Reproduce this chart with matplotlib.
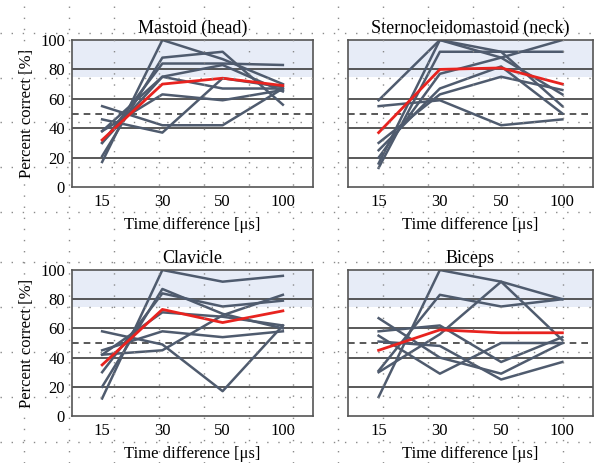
import numpy as np
import matplotlib
matplotlib.use("Agg")
from matplotlib import pyplot as plt
from matplotlib.lines import Line2D

plt.rcParams["font.family"] = ["Liberation Serif", "DejaVu Serif"]

time_labels = ["15", "30", "50", "100"]

mastoid = [
    [17, 100, 87, 70],
    [21, 88, 92, 56],
    [30, 84, 84, 83],
    [38, 75, 83, 65],
    [30, 75, 67, 67],
    [38, 63, 59, 66],
    [55, 42, 42, 67],
    [46, 37, 74, 68],
]
mastoid_mean = [32, 70, 74, 69]

neck = [
    [59, 100, 88, 63],
    [16, 100, 92, 55],
    [13, 92, 92, 92],
    [55, 59, 42, 46],
    [25, 67, 82, 50],
    [20, 77, 88, 100],
    [30, 63, 75, 66],
]
neck_mean = [37, 80, 81, 70]

clavicle = [
    [12, 100, 92, 96],
    [20, 87, 70, 60],
    [30, 84, 75, 79],
    [42, 71, 68, 62],
    [45, 58, 54, 58],
    [58, 49, 17, 62],
    [42, 45, 69, 83],
]
clavicle_mean = [35, 73, 64, 72]

biceps = [
    [13, 100, 92, 80],
    [31, 83, 75, 80],
    [30, 56, 92, 52],
    [67, 40, 29, 50],
    [58, 62, 37, 54],
    [55, 29, 50, 50],
    [51, 48, 25, 37],
]
biceps_mean = [45, 59, 57, 57]

panels = [
    ("Mastoid (head)", mastoid, mastoid_mean, [72, 40, 241, 147]),
    ("Sternocleidomastoid (neck)", neck, neck_mean, [348, 40, 245, 147]),
    ("Clavicle", clavicle, clavicle_mean, [72, 270, 241, 146]),
    ("Biceps", biceps, biceps_mean, [348, 270, 245, 146]),
]

W, H = 595, 463
fig = plt.figure(figsize=(W / 100, H / 100), dpi=100)

GRAY = "#4f5b6e"
RED = "#e8231f"
x = np.arange(len(time_labels))

for i, (title, subjects, avg, (px, py, pw, ph)) in enumerate(panels):
    ax = fig.add_axes([px / W, 1 - (py + ph) / H, pw / W, ph / H])
    ax.axhspan(75, 100, color="#e7ecf7", zorder=0, lw=0)
    for yv in [20, 40, 60, 80]:
        ax.axhline(yv, color="#3c3c3c", lw=1.2, zorder=1)
    ax.axhline(50, color="#3c3c3c", lw=1.2, ls=(0, (4, 3)), zorder=1)
    for s in subjects:
        ax.plot(x, s, color=GRAY, lw=1.8, zorder=2)
    ax.plot(x, avg, color=RED, lw=2.0, zorder=3)
    ax.set_xlim(-0.5, 3.5)
    ax.set_ylim(0, 100)
    ax.set_xticks(x)
    ax.set_xticklabels(time_labels)
    ax.set_yticks([0, 20, 40, 60, 80, 100])
    ax.tick_params(length=0, labelsize=12, pad=5)
    if i % 2 == 1:
        ax.set_yticklabels([])
    else:
        ax.set_ylabel("Percent correct [%]", fontsize=12, labelpad=4)
    ax.set_xlabel("Time difference [μs]", fontsize=12, labelpad=5)
    ax.set_title(title, fontsize=13, pad=5)
    for sp in ax.spines.values():
        sp.set_color("#555555")
        sp.set_linewidth(1.2)

# dotted paper grid behind the scan
cols = [24 + 44.9 * k for k in range(13)]
rows = [33, 78, 122, 167, 212, 262, 307, 352, 397, 442]
dot = dict(color="#8a8a8a", lw=1.0, ls=(0, (1, 7)), zorder=5)
for cx in cols:
    fig.add_artist(Line2D([cx / W, cx / W], [0, 1], transform=fig.transFigure, **dot))
for ry in rows:
    fig.add_artist(Line2D([0, 1], [1 - ry / H, 1 - ry / H], transform=fig.transFigure, **dot))

fig.savefig("out.png", dpi=100, facecolor="white")
